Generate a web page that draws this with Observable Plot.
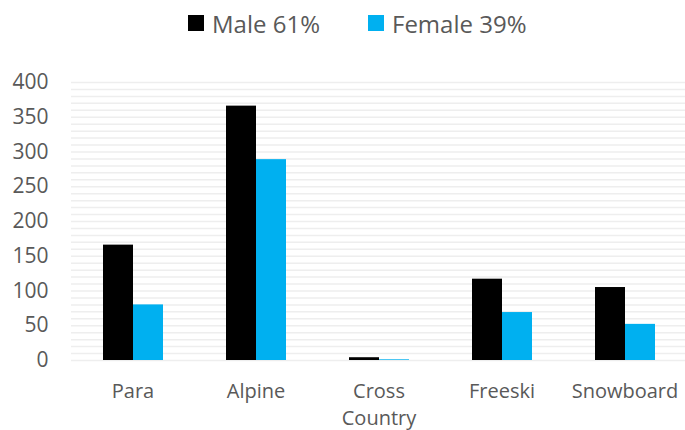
<!DOCTYPE html>
<html><head><meta charset="utf-8">
<script src="https://cdn.jsdelivr.net/npm/d3@7"></script>
<script src="https://cdn.jsdelivr.net/npm/@observablehq/plot@0.6"></script>
<style>
body{margin:0;background:#fff;font-family:"Open Sans",sans-serif;}
#wrap{width:685px;height:430px;position:relative;overflow:hidden;}
#legend{position:relative;height:50px;}
.item{position:absolute;top:0;height:46px;display:flex;align-items:center;font-size:24px;color:#595959;white-space:nowrap;}
.sw{width:16px;height:16px;margin-right:8px;}
</style></head><body>
<div id="wrap"><div id="legend"></div><div id="chart"></div></div>
<script>
const categories = ["Para","Alpine","Cross Country","Freeski","Snowboard"];
const series = ["Male","Female"];
const seriesLabels = ["Male 61%","Female 39%"];
const male = [166,366,4,117,105];
const female = [80,289,1,69,52];
const colors = ["#000000","#00B0F0"];
const yTicks = [0,50,100,150,200,250,300,350,400];
const gridLines = d3.range(0, 401, 10);

const data = categories.flatMap((c,i)=>[
  {cat:c, sex:series[0], v:male[i]},
  {cat:c, sex:series[1], v:female[i]}
]);

const legend = document.getElementById("legend");
const legendLeft = [188, 368];
seriesLabels.forEach((lab,i)=>{
  const it = document.createElement("div");
  it.className = "item";
  it.style.left = legendLeft[i] + "px";
  const sw = document.createElement("span");
  sw.className = "sw";
  sw.style.background = colors[i];
  it.appendChild(sw);
  it.appendChild(document.createTextNode(lab));
  legend.appendChild(it);
});

const chart = Plot.plot({
  width: 685, height: 380,
  marginLeft: 69, marginRight: -3, marginTop: 32, marginBottom: 70,
  fx: {domain: categories, padding: 0, label: null, axis: null},
  x: {domain: series, paddingInner: 0, paddingOuter: 1, axis: null},
  y: {domain: [0, 400], axis: null},
  color: {domain: series, range: colors},
  style: {fontFamily: "'Open Sans', sans-serif", color: "#595959", fontSize: "19px", background: "#fff", overflow: "visible"},
  marks: [
    Plot.ruleY(gridLines, {stroke: "#eeeeee", strokeWidth: 1.5}),
    Plot.barY(data, {fx: "cat", x: "sex", y: "v", fill: "sex"}),
    Plot.axisY(yTicks, {tickSize: 0, tickPadding: 23, fontSize: 21, label: null, fill: "#595959"}),
    Plot.axisFx({anchor: "bottom", tickSize: 0, tickPadding: 18, fontSize: 20, lineHeight: 1.35, label: null, fill: "#595959", tickFormat: d => d.replace(" ", "\n")})
  ]
});
document.getElementById("chart").appendChild(chart);
</script>
</body></html>
